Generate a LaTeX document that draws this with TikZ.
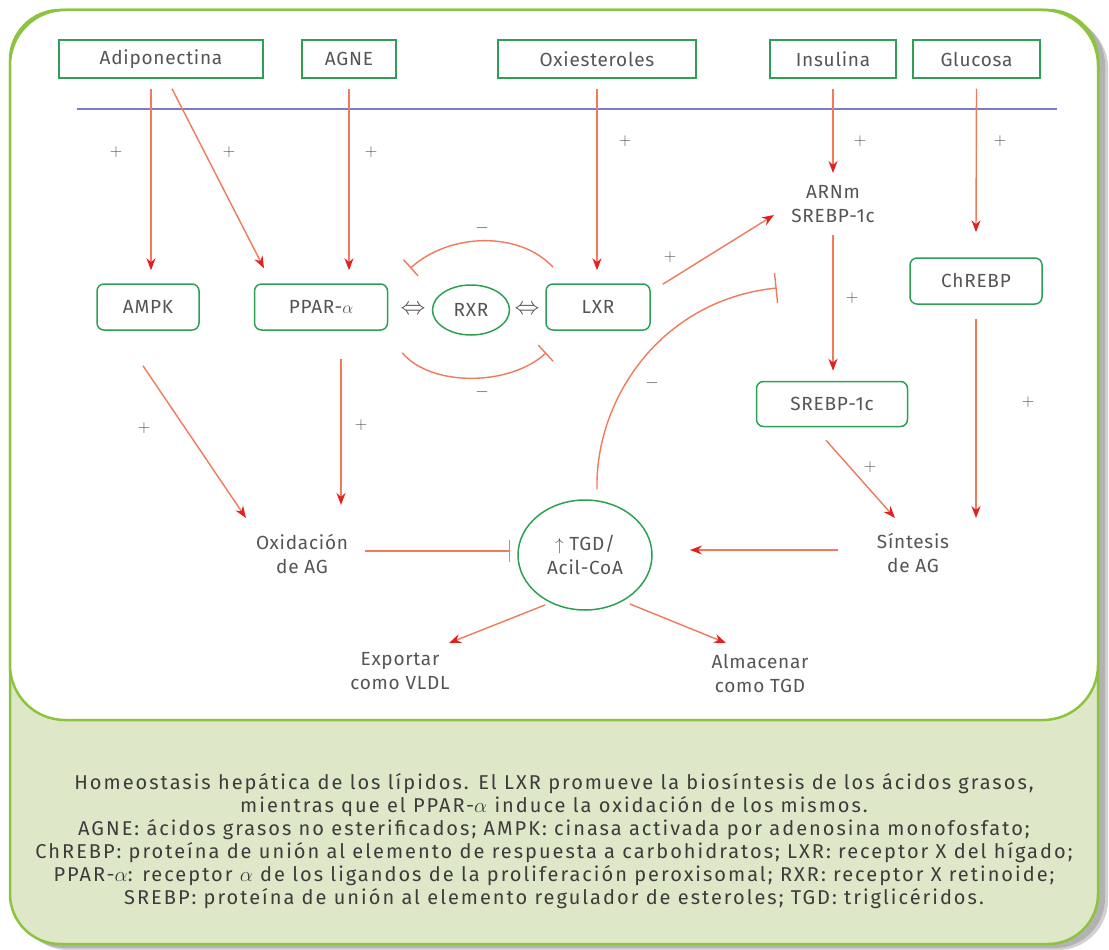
\documentclass[tikz,border=0pt]{standalone}
\usepackage{fontspec}
\setmainfont{Fira Sans}[LetterSpace=4]
\newfontfamily\capfont{Fira Sans}[LetterSpace=10]
\usetikzlibrary{arrows.meta,shapes.geometric,calc}

\definecolor{framegreen}{RGB}{140,196,63}
\definecolor{boxgreen}{RGB}{45,160,85}
\definecolor{panelfill}{RGB}{222,232,200}
\definecolor{membrane}{RGB}{122,124,196}
\definecolor{arrline}{RGB}{241,122,92}
\definecolor{arrhead}{RGB}{226,32,32}
\definecolor{labeltext}{RGB}{85,85,85}
\definecolor{captext}{RGB}{60,60,60}

\tikzset{
  topbox/.style={draw=boxgreen, line width=1.5pt, minimum height=38pt, inner sep=0pt, text=labeltext},
  rbox/.style={draw=boxgreen, line width=1.5pt, rounded corners=7pt, minimum height=46pt, inner sep=0pt, text=labeltext},
  oval/.style={ellipse, draw=boxgreen, line width=1.5pt, inner sep=0pt, text=labeltext, align=center},
  lbl/.style={text=labeltext, align=center, inner sep=0pt},
  act/.style={draw=arrline, line width=1.4pt, -{Stealth[length=12pt,width=9pt,color=arrhead]}},
  inh/.style={draw=arrline, line width=1.4pt, -{Bar[width=22pt]}},
  sign/.style={text=labeltext, inner sep=0pt},
  equiv/.style={text=labeltext, inner sep=0pt, font=\fontsize{26}{26}\selectfont}
}

\begin{document}
\begin{tikzpicture}[x=1pt, y=-1pt, font=\fontsize{19}{24}\selectfont]
\useasboundingbox (0,0) rectangle (1109,950);

% drop shadow of the card
\fill[black!18, rounded corners=50pt] (18,18) rectangle (1108,950);
\fill[black!30, rounded corners=50pt] (15,15) rectangle (1105,948);

% lower caption panel and upper white drawing panel
\filldraw[fill=panelfill, draw=framegreen, line width=2.5pt, rounded corners=50pt] (10,10) rectangle (1098,944);
\filldraw[fill=white, draw=framegreen, line width=2.5pt, rounded corners=55pt] (10,10) rectangle (1098,720);

% cell membrane
\coordinate (memL) at (77,109);
\coordinate (memR) at (1057,109);
\draw[membrane, line width=2.5pt] (memL) -- (memR);

% extracellular signals
\node[topbox, minimum width=204pt] (adipo) at (161,59) {Adiponectina};
\node[topbox, minimum width=94pt]  (agne)  at (349,59) {AGNE};
\node[topbox, minimum width=198pt] (oxi)   at (597,59) {Oxiesteroles};
\node[topbox, minimum width=126pt] (ins)   at (833,59) {Insulina};
\node[topbox, minimum width=127pt] (glu)   at (976.5,59) {Glucosa};

% regulators
\node[rbox, minimum width=102pt] (ampk)   at (148,307) {AMPK};
\node[rbox, minimum width=133pt] (ppar)   at (321,307) {PPAR-$\alpha$};
\node[oval, minimum width=77pt, minimum height=50pt] (rxr) at (471,310) {RXR};
\node[rbox, minimum width=104pt] (lxr)    at (598,307) {LXR};
\node[lbl] (arnm) at (833,204) {ARNm\\SREBP-1c};
\node[rbox, minimum width=151pt, minimum height=45pt] (srebp) at (832,404) {SREBP-1c};
\node[rbox, minimum width=132pt] (chrebp) at (976,281) {ChREBP};

\node[equiv] (dl) at (413,310) {$\Leftrightarrow$};
\node[equiv] (dr) at (527,310) {$\Leftrightarrow$};

% metabolic outcomes
\node[lbl] (oxid) at (302,554) {Oxidación\\de AG};
\node[lbl] (sint) at (913,553) {Síntesis\\de AG};
\node[oval, minimum width=134pt, minimum height=110pt] (tgd) at (585,555) {$\uparrow$ TGD/\\Acil-CoA};
\node[lbl] (exp) at (400,671) {Exportar\\como VLDL};
\node[lbl] (alm) at (760,673) {Almacenar\\como TGD};

% activations
\draw[act] ($(adipo.south)+(-10,10)$) -- ($(ampk.north)+(3,-13)$);
\draw[act] ($(adipo.south)+(11,10)$) -- ($(ppar.north)+(-57,-15)$);
\draw[act] ($(agne.south)+(0,10)$) -- ($(ppar.north)+(28,-13)$);
\draw[act] ($(oxi.south)+(0,10)$) -- ($(lxr.north)+(-1,-13)$);
\draw[act] ($(ins.south)+(0,10)$) -- ($(arnm.center)+(0,-31)$);
\draw[act] ($(lxr.north east)+(12,1)$) -- ($(arnm.center)+(-59,11)$);
\draw[act] ($(arnm.center)+(0,31)$) -- ($(srebp.north)+(1,-10)$);
\draw[act] ($(glu.south)+(0,10)$) -- ($(chrebp.north)+(0,-25)$);
\draw[act] ($(chrebp.south)+(0,14)$) -- ($(sint.center)+(63,-35)$);
\draw[act] ($(srebp.south)+(-6,13)$) -- ($(sint.center)+(-18,-35)$);
\draw[act] ($(sint.center)+(-75,-3)$) -- ($(tgd.center)+(105,-5)$);
\draw[act] ($(ampk.south)+(-5,35)$) -- ($(oxid.center)+(-56,-36)$);
\draw[act] ($(ppar.south)+(20,28)$) -- ($(oxid.center)+(39,-49)$);
\draw[act] ($(tgd.center)+(-40,50)$) -- ($(exp.center)+(49,-28)$);
\draw[act] ($(tgd.center)+(45,49)$) -- ($(alm.center)+(-34,-30)$);

% inhibitions
\draw[inh] ($(oxid.center)+(63,-3)$) -- ($(tgd.center)+(-75,-4)$);
\draw[inh] ($(lxr.north)+(-45,-16)$) .. controls ($(lxr.north)+(-78,-52)$) and ($(ppar.north east)+(62,-51)$) .. ($(ppar.north east)+(22,-15)$);
\draw[inh] ($(ppar.south east)+(14,22)$) .. controls ($(ppar.south east)+(42,56)$) and ($(lxr.south west)+(-36,56)$) .. ($(lxr.south west)+(1,22)$);
\draw[draw=arrline, line width=1.4pt, -{Bar[width=30pt]}] ($(tgd.north)+(12,-10)$) .. controls ($(tgd.north)+(10,-100)$) and ($(lxr.east)+(10,-7)$) .. ($(lxr.east)+(126,-19)$);

% signs
\node[sign] (p1)  at (116,152) {$+$};
\node[sign] (p2)  at (229,152) {$+$};
\node[sign] (p3)  at (371,152) {$+$};
\node[sign] (p4)  at (625,141) {$+$};
\node[sign] (p5)  at (860,141) {$+$};
\node[sign] (p6)  at (1000,141) {$+$};
\node[sign] (p7)  at (670,257) {$+$};
\node[sign] (p8)  at (852,298) {$+$};
\node[sign] (p9)  at (144,428) {$+$};
\node[sign] (p10) at (361,425) {$+$};
\node[sign] (p11) at (870,467) {$+$};
\node[sign] (p12) at (1028,402) {$+$};
\node[sign] (m1)  at (482,228) {$-$};
\node[sign] (m2)  at (482,392) {$-$};
\node[sign] (m3)  at (652,383) {$-$};

% caption
\node[text=captext, align=center, inner sep=0pt, font=\capfont\fontsize{20}{23}\selectfont] (caption) at (554,841) {%
Homeostasis hepática de los lípidos. El LXR promueve la biosíntesis de los ácidos grasos,\\
mientras que el PPAR-$\alpha$ induce la oxidación de los mismos.\\
AGNE: ácidos grasos no esterificados; AMPK: cinasa activada por adenosina monofosfato;\\
ChREBP: proteína de unión al elemento de respuesta a carbohidratos; LXR: receptor X del hígado;\\
PPAR-$\alpha$: receptor $\alpha$ de los ligandos de la proliferación peroxisomal; RXR: receptor X retinoide;\\
SREBP: proteína de unión al elemento regulador de esteroles; TGD: triglicéridos.};
\end{tikzpicture}
\end{document}
